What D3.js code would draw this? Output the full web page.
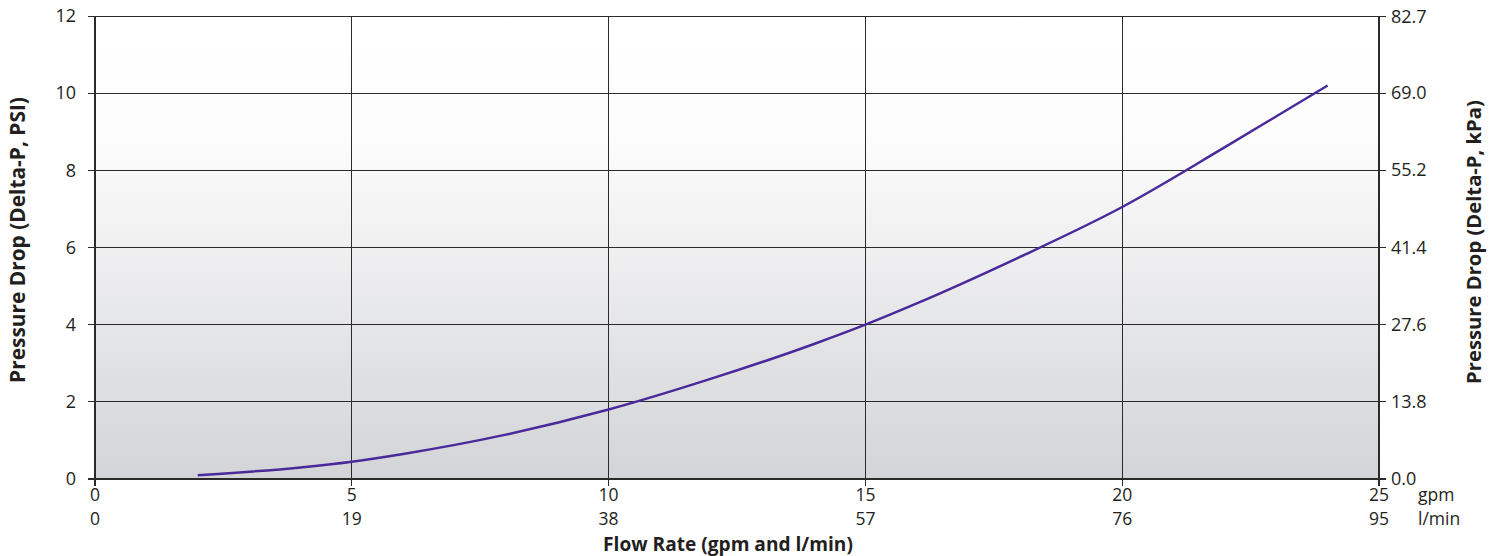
<!DOCTYPE html>
<html><head><meta charset="utf-8">
<script src="https://cdn.jsdelivr.net/npm/d3@7"></script>
<style>
html,body{margin:0;padding:0;background:#fff;}
svg text{font-family:"Open Sans",Lato,sans-serif;fill:#231f20;}
</style></head>
<body>
<svg id="chart" width="1493" height="556"></svg>
<script>
// ---- data ----
const flowGpm = [2, 4, 5, 6, 8, 10, 12, 14, 15, 16, 18, 20, 22, 24];
const dropPsi = [0.1, 0.3, 0.45, 0.65, 1.15, 1.8, 2.6, 3.5, 4.0, 4.55, 5.75, 7.05, 8.6, 10.2];
const psiTicks = [0, 2, 4, 6, 8, 10, 12];
const kpaTicks = ["0.0", "13.8", "27.6", "41.4", "55.2", "69.0", "82.7"];
const gpmTicks = [0, 5, 10, 15, 20, 25];
const lminTicks = ["0", "19", "38", "57", "76", "95"];

const svg = d3.select("#chart");
const m = {l: 95, r: 1379, t: 16, b: 479};
const x = d3.scaleLinear().domain([0, 25]).range([m.l, m.r]);
const y = d3.scaleLinear().domain([0, 12]).range([m.b, m.t]);

// background gradient
const defs = svg.append("defs");
const g = defs.append("linearGradient").attr("id", "bg").attr("x1", 0).attr("y1", 0).attr("x2", 0).attr("y2", 1);
g.append("stop").attr("offset", "0%").attr("stop-color", "#ffffff");
g.append("stop").attr("offset", "25%").attr("stop-color", "#fdfdfd");
g.append("stop").attr("offset", "100%").attr("stop-color", "#d3d4d7");
svg.append("rect").attr("x", m.l).attr("y", m.t).attr("width", m.r - m.l).attr("height", m.b - m.t).attr("fill", "url(#bg)");

// grid
const grid = svg.append("g").attr("stroke", "#2b2b2b").attr("stroke-width", 1).attr("shape-rendering", "crispEdges");
psiTicks.forEach(v => grid.append("line").attr("x1", m.l - 7).attr("x2", m.r + 7).attr("y1", y(v)).attr("y2", y(v)));
gpmTicks.forEach(v => grid.append("line").attr("x1", x(v)).attr("x2", x(v)).attr("y1", m.t).attr("y2", m.b + 7));
grid.append("line").attr("x1", m.l).attr("x2", m.l).attr("y1", m.t).attr("y2", m.b + 7).attr("stroke-width", 1.5);
grid.append("line").attr("x1", m.r).attr("x2", m.r).attr("y1", m.t).attr("y2", m.b + 7).attr("stroke-width", 1.5);
grid.append("line").attr("x1", m.l - 7).attr("x2", m.r + 7).attr("y1", m.b).attr("y2", m.b).attr("stroke-width", 2);

// left axis labels
svg.append("g").selectAll("text").data(psiTicks).join("text")
  .attr("x", 76).attr("y", d => y(d)).attr("dy", "0.35em").attr("text-anchor", "end")
  .attr("font-size", 18).text(d => d);
// right axis labels
const kpa = d3.scaleLinear().domain([0, 82.74]).range([m.b, m.t]);
svg.append("g").selectAll("text").data(kpaTicks).join("text")
  .attr("x", m.r + 12).attr("y", d => kpa(+d)).attr("dy", "0.35em").attr("text-anchor", "start")
  .attr("font-size", 18).text(d => d);
// bottom labels
const bfs = 17.5;
svg.append("g").selectAll("text").data(gpmTicks).join("text")
  .attr("x", d => x(d)).attr("y", 495).attr("dy", "0.35em").attr("text-anchor", "middle")
  .attr("font-size", bfs).text(d => d);
svg.append("g").selectAll("text").data(lminTicks).join("text")
  .attr("x", (d, i) => x(gpmTicks[i])).attr("y", 519).attr("dy", "0.35em").attr("text-anchor", "middle")
  .attr("font-size", bfs).text(d => d);
svg.append("text").attr("x", 1418).attr("y", 495).attr("dy", "0.35em").attr("font-size", bfs).text("gpm");
svg.append("text").attr("x", 1418).attr("y", 519).attr("dy", "0.35em").attr("font-size", bfs).text("l/min");

// axis titles (sized to match reference widths)
function fit(sel, target) {
  let fs = 16;
  sel.attr("font-size", fs);
  const w = sel.node().getComputedTextLength();
  if (w > 0) sel.attr("font-size", fs * target / w);
}
fit(svg.append("text").attr("x", 728).attr("y", 544).attr("dy", "0.35em").attr("text-anchor", "middle")
  .attr("font-weight", "bold").text("Flow Rate (gpm and l/min)"), 250);
fit(svg.append("text").attr("transform", "translate(18,240) rotate(-90)").attr("dy", "0.35em").attr("text-anchor", "middle")
  .attr("font-weight", "bold").text("Pressure Drop (Delta-P, PSI)"), 286);
fit(svg.append("text").attr("transform", "translate(1474,242) rotate(-90)").attr("dy", "0.35em").attr("text-anchor", "middle")
  .attr("font-weight", "bold").text("Pressure Drop (Delta-P, kPa)"), 284);

// curve
const pts = flowGpm.map((f, i) => [f, dropPsi[i]]);
svg.append("path").datum(pts)
  .attr("d", d3.line().x(d => x(d[0])).y(d => y(d[1])).curve(d3.curveMonotoneX))
  .attr("fill", "none").attr("stroke", "#4a2a9a").attr("stroke-width", 2.5);
</script>
</body></html>
